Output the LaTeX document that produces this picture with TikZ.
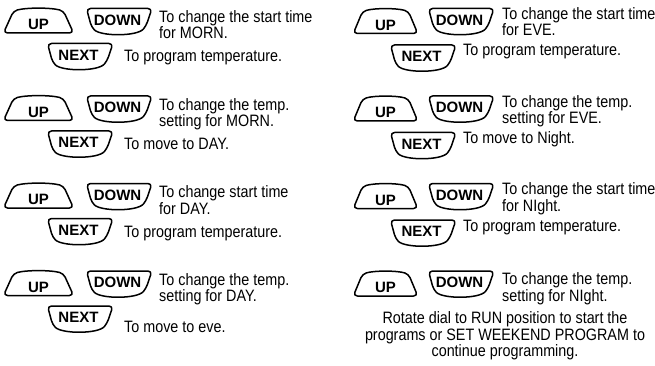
\documentclass[tikz,border=0pt]{standalone}
\usepackage{fontspec}
\setmainfont{Liberation Sans}[FakeStretch=0.87]
\newfontfamily\keyfont{Liberation Sans}

\tikzset{
  keyline/.style = {line width=1.5pt, rounded corners=4pt, line join=round},
  keytext/.style = {font=\keyfont\bfseries\fontsize{15}{16}\selectfont, inner sep=0pt},
  helptext/.style = {font=\fontsize{16.5}{14}\selectfont, align=left, anchor=base west, inner sep=0pt},
  upkey/.pic = {
    \draw [keyline] (-35,12) -- (-25,-10) .. controls (-12,-13.5) and (12,-13.5) .. (25,-10) -- (35,12) -- cycle;
    \node [keytext] (-lbl) at (0,3.5) {UP};
  },
  downkey/.pic = {
    \draw [keyline] (-32.5,-12.5) -- (33,-12.5) -- (27,5) .. controls (18,15.5) and (-18,15.5) .. (-27.5,6) -- cycle;
    \node [keytext] (-lbl) at (-1.5,-1) {#1};
  },
}

\begin{document}
\begin{tikzpicture}[x=1pt, y=-1pt]
  \useasboundingbox (0,0) rectangle (655,366);
  % left column: morning and day
  % (base of a two-line node is its last line)
  \foreach \desc/\nxt/\dy [count=\i] in {
    {To change the start time\\for MORN.}/{To program temperature.}/0,
    {To change the temp.\\setting for MORN.}/{To move to DAY.}/0,
    {To change start time\\for DAY.}/{To program temperature.}/0,
    {To change the temp.\\setting for DAY.}/{To move to eve.}/8} {
    \pgfmathsetmacro{\yy}{(\i-1)*87.5}
    \pic (lup\i) at (38.5,\yy+21) {upkey};
    \pic (ldown\i) at (119,\yy+21) {downkey=DOWN};
    \pic (lnext\i) at (80,\yy+56) {downkey=NEXT};
    \node [helptext] (ldesc\i) at (159,\yy+39) {\desc};
    \node [helptext] (lnxt\i) at (124,\yy+62+\dy) {\nxt};
  }
  % right column: evening and night
  \foreach \desc/\nxt [count=\i] in {
    {To change the start time\\for EVE.}/{To program temperature.},
    {To change the temp.\\setting for EVE.}/{To move to Night.},
    {To change the start time\\for NIght.}/{To program temperature.}} {
    \pgfmathsetmacro{\yy}{(\i-1)*87.5}
    \pic [xscale=0.92] (rup\i) at (385.5,\yy+21.5) {upkey};
    \pic (rdown\i) at (461,\yy+21) {downkey=DOWN};
    \pic (rnext\i) at (423,\yy+57.5) {downkey=NEXT};
    \node [helptext, font=\fontsize{16.5}{12.5}\selectfont] (rdesc\i) at (502,\yy+36) {\desc};
    \node [helptext] (rnxt\i) at (463,\yy+56) {\nxt};
  }
  % last row, no NEXT key
  \pic [xscale=0.92] (rup4) at (385.5,284) {upkey};
  \pic (rdown4) at (461,283.5) {downkey=DOWN};
  \node [helptext, font=\fontsize{16.5}{12.5}\selectfont] (rdesc4) at (502,301) {To change the temp.\\setting for NIght.};
  \node [font=\fontsize{16.5}{16.7}\selectfont, align=center, anchor=base, inner sep=0pt] (rdone) at (505,356.7)
    {Rotate dial to RUN position to start the\\programs or SET WEEKEND PROGRAM to\\continue programming.};
\end{tikzpicture}
\end{document}
